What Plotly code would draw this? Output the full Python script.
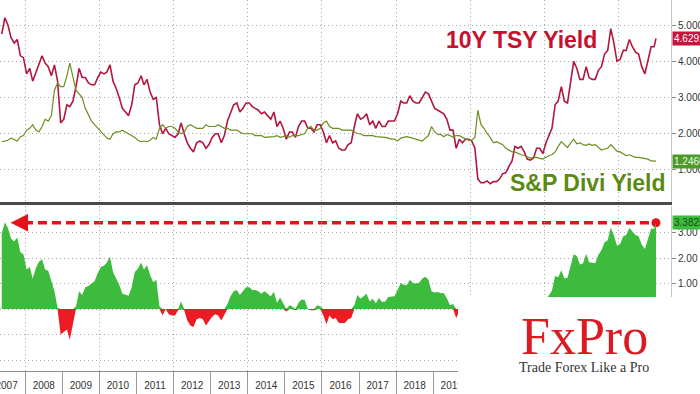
import numpy as np
import plotly.graph_objects as go

# ---------------- data (mid-month readings, May 2007 .. Dec 2024, plus 2 Jan 2025) ----------------
months = [f"{y}-{m:02d}-15" for y in range(2007, 2025) for m in range(1, 13) if not (y == 2007 and m < 5)]
dates = months + ["2025-01-02"]

tsy_yield = [
    4.75, 5.20, 5.00, 4.65, 4.50, 4.60, 4.15, 4.10,                      # 2007
    3.65, 3.80, 3.45, 3.70, 3.90, 4.15, 3.95, 3.85, 3.60, 3.90, 3.45, 2.30,  # 2008
    2.40, 2.80, 2.75, 2.90, 3.30, 3.80, 3.55, 3.55, 3.40, 3.35, 3.35, 3.55,  # 2009
    3.70, 3.65, 3.70, 3.90, 3.45, 3.25, 3.00, 2.70, 2.60, 2.50, 2.80, 3.35,  # 2010
    3.40, 3.60, 3.35, 3.50, 3.15, 2.95, 3.00, 2.25, 2.00, 2.15, 2.00, 1.95,  # 2011
    1.90, 2.00, 2.30, 2.00, 1.75, 1.60, 1.50, 1.75, 1.80, 1.75, 1.60, 1.70,  # 2012
    1.90, 2.00, 2.00, 1.75, 1.95, 2.35, 2.60, 2.80, 2.85, 2.60, 2.70, 2.85,  # 2013
    2.85, 2.75, 2.70, 2.65, 2.55, 2.60, 2.50, 2.40, 2.60, 2.20, 2.35, 2.15,  # 2014
    1.85, 2.05, 2.05, 1.90, 2.20, 2.35, 2.35, 2.15, 2.15, 2.05, 2.25, 2.25,  # 2015
    2.05, 1.75, 1.95, 1.75, 1.80, 1.60, 1.55, 1.55, 1.70, 1.75, 2.20, 2.55,  # 2016
    2.40, 2.45, 2.55, 2.25, 2.35, 2.15, 2.35, 2.20, 2.20, 2.35, 2.35, 2.35,  # 2017
    2.55, 2.90, 2.85, 2.85, 3.05, 2.90, 2.85, 2.85, 3.00, 3.15, 3.10, 2.90,  # 2018
    2.70, 2.65, 2.60, 2.55, 2.40, 2.10, 2.10, 1.60, 1.85, 1.75, 1.85, 1.85,  # 2019
    1.80, 1.60, 0.75, 0.65, 0.65, 0.70, 0.62, 0.68, 0.68, 0.75, 0.90, 0.92,  # 2020
    1.10, 1.25, 1.65, 1.60, 1.65, 1.50, 1.30, 1.27, 1.33, 1.60, 1.60, 1.45,  # 2021
    1.75, 1.95, 2.15, 2.80, 2.90, 3.30, 2.90, 2.85, 3.45, 4.00, 3.80, 3.50,  # 2022
    3.50, 3.85, 3.55, 3.50, 3.50, 3.75, 3.85, 4.20, 4.30, 4.90, 4.50, 4.00,  # 2023
    4.05, 4.30, 4.30, 4.60, 4.40, 4.25, 4.20, 3.85, 3.65, 4.05, 4.40, 4.40,  # 2024
    4.6291,                                                              # 2025
]

div_yield = [
    1.78, 1.80, 1.82, 1.88, 1.85, 1.80, 1.92, 1.95,                      # 2007
    2.10, 2.15, 2.25, 2.10, 2.05, 2.20, 2.40, 2.35, 2.50, 3.20, 3.40, 3.30,  # 2008
    3.30, 3.60, 3.95, 3.55, 3.20, 3.10, 3.00, 2.70, 2.50, 2.35, 2.25, 2.15,  # 2009
    2.05, 1.95, 1.88, 1.85, 2.00, 2.05, 2.05, 2.10, 2.05, 1.98, 1.95, 1.90,  # 2010
    1.82, 1.78, 1.80, 1.78, 1.82, 1.90, 1.85, 2.15, 2.25, 2.15, 2.20, 2.20,  # 2011
    2.15, 2.05, 2.00, 2.05, 2.20, 2.25, 2.20, 2.15, 2.15, 2.15, 2.25, 2.20,  # 2012
    2.20, 2.20, 2.25, 2.20, 2.15, 2.15, 2.10, 2.10, 2.10, 2.05, 2.00, 2.00,  # 2013
    2.00, 2.00, 1.95, 1.95, 1.95, 1.90, 1.90, 1.90, 1.92, 1.95, 1.90, 1.92,  # 2014
    1.95, 1.90, 1.95, 1.95, 1.95, 1.98, 2.00, 2.15, 2.20, 2.10, 2.10, 2.15,  # 2015
    2.30, 2.35, 2.20, 2.15, 2.15, 2.15, 2.10, 2.10, 2.10, 2.10, 2.05, 2.00,  # 2016
    2.00, 1.95, 1.95, 1.95, 1.95, 1.92, 1.92, 1.92, 1.90, 1.88, 1.85, 1.85,  # 2017
    1.80, 1.88, 1.90, 1.92, 1.90, 1.88, 1.85, 1.82, 1.80, 1.88, 1.95, 2.20,  # 2018
    2.05, 1.98, 1.98, 1.92, 1.98, 1.95, 1.90, 1.95, 1.95, 1.90, 1.85, 1.82,  # 2019
    1.82, 1.90, 2.65, 2.25, 2.15, 2.00, 1.90, 1.75, 1.78, 1.75, 1.70, 1.60,  # 2020
    1.55, 1.50, 1.50, 1.45, 1.42, 1.40, 1.37, 1.33, 1.35, 1.35, 1.32, 1.30,  # 2021
    1.35, 1.40, 1.42, 1.50, 1.65, 1.78, 1.70, 1.62, 1.75, 1.85, 1.72, 1.75,  # 2022
    1.70, 1.68, 1.72, 1.68, 1.70, 1.62, 1.55, 1.58, 1.60, 1.70, 1.62, 1.52,  # 2023
    1.50, 1.45, 1.40, 1.42, 1.38, 1.35, 1.35, 1.33, 1.30, 1.30, 1.25, 1.25,  # 2024
    1.2466,                                                              # 2025
]

year_labels = [str(y) for y in range(2007, 2025)]
year_label_pos = [f"{y}-07-02" for y in range(2007, 2025)]
top_ticks = [1, 2, 3, 4, 5]
bottom_ticks = [-2, -1, 0, 1, 2, 3]
ARROW_TIP = "2007-08-10"
DASH_START = "2007-12-20"
X_RANGE = ["2007-04-28", "2025-05-30"]

# ---------------- derived ----------------
tsy = np.array(tsy_yield)
div = np.array(div_yield)
spread = tsy - div
pos = np.where(spread >= 0, spread, 0)
neg = np.where(spread < 0, spread, 0)

RED_LINE = "#b3173f"
GREEN_LINE = "#6a8f1f"
AREA_GREEN = "#3dbb3d"
AREA_RED = "#ec1c24"
GRID = "#a8a8a8"

W, H = 700.0, 394.0
PW = 671.0   # plot-area width (right axis line at x=671)


def px(x):
    return x / PW


def py(y):
    return 1 - y / H


fig = go.Figure()
fig.add_trace(go.Scatter(x=dates, y=pos, xaxis="x2", yaxis="y", mode="lines",
                         line=dict(width=0, color=AREA_GREEN), fill="tozeroy",
                         fillcolor=AREA_GREEN, hoverinfo="skip"))
fig.add_trace(go.Scatter(x=dates, y=neg, xaxis="x2", yaxis="y", mode="lines",
                         line=dict(width=0, color=AREA_RED), fill="tozeroy",
                         fillcolor=AREA_RED, hoverinfo="skip"))
fig.add_trace(go.Scatter(x=[DASH_START, dates[-1]], y=[spread[-1], spread[-1]],
                         xaxis="x", yaxis="y", mode="lines",
                         line=dict(color="#e3121b", width=3.5, dash="9px,5px")))
fig.add_trace(go.Scatter(x=[dates[-1]], y=[spread[-1]], xaxis="x", yaxis="y", mode="markers",
                         marker=dict(color="#e3121b", size=9)))
fig.add_trace(go.Scatter(x=dates, y=tsy, xaxis="x2", yaxis="y2", mode="lines",
                         line=dict(color=RED_LINE, width=1.6)))
fig.add_trace(go.Scatter(x=dates, y=div, xaxis="x2", yaxis="y2", mode="lines",
                         line=dict(color=GREEN_LINE, width=1.2)))

yfont = dict(size=10, color="#333333")

fig.update_layout(
    template="none",
    width=700, height=394,
    margin=dict(l=0, r=W - PW, t=0, b=0, pad=0, autoexpand=False),
    paper_bgcolor="white", plot_bgcolor="rgba(0,0,0,0)",
    showlegend=False,
    font=dict(family="Liberation Sans, Arial, sans-serif", color="#333333", size=10),
    xaxis=dict(domain=[0, 1], anchor="y", type="date", range=X_RANGE, automargin=False,
               tickmode="array", tickvals=year_label_pos, ticktext=year_labels, ticks="",
               tickfont=dict(size=10, color="#333333"), ticklabelstandoff=5,
               ticklabeloverflow="allow",
               minor=dict(ticks="outside", ticklen=23, tickwidth=1, tickcolor="#9a9a9a",
                          dtick="M12", tick0="2007-01-01", showgrid=False),
               showgrid=False, zeroline=False, showline=True, linecolor="#8c8c8c", linewidth=1),
    xaxis2=dict(domain=[0, 1], anchor="y2", type="date", range=X_RANGE, matches="x",
                automargin=False, tickmode="linear", dtick="M24", tick0="2008-01-01",
                showgrid=True, gridcolor=GRID, griddash="1px,3px", gridwidth=1,
                showticklabels=False, ticks="", zeroline=False,
                showline=True, linecolor="#4a4a4a", linewidth=3),
    yaxis=dict(domain=[23 / H, 188 / H], anchor="x", side="right", range=[-2.43, 4.04],
               automargin=False, tickvals=bottom_ticks, tickformat=".2f", showgrid=True,
               gridcolor=GRID, griddash="1px,3px", gridwidth=1, zeroline=False,
               ticks="outside", ticklen=4, tickcolor="#888888",
               showline=True, linecolor="#c4ceb4", tickfont=yfont),
    yaxis2=dict(domain=[192 / H, 1], anchor="x2", side="right", range=[0.117, 5.69],
                automargin=False, tickvals=top_ticks, tickformat=".4f", showgrid=True,
                gridcolor=GRID, griddash="1px,3px", gridwidth=1, zeroline=False,
                ticks="outside", ticklen=4, tickcolor="#888888",
                showline=True, linecolor="#c4ceb4", tickfont=yfont),
)

fig.add_shape(type="rect", xref="paper", yref="paper", x0=px(458), x1=px(W),
              y0=0, y1=py(297), fillcolor="white", line=dict(width=0), layer="above")

C = dict(xanchor="center", yanchor="middle", showarrow=False, xref="paper", yref="paper")
ann = [
    dict(text="<b>10Y TSY Yield</b>", x=px(521), y=py(40),
         font=dict(size=23, color="#c8102e", family="Liberation Sans, Arial"), **C),
    dict(text="<b>S&P Divi Yield</b>", x=px(588), y=py(183),
         font=dict(size=23, color="#5b8a12", family="Liberation Sans, Arial"), **C),
    dict(text="FxPro", x=px(584), y=py(336),
         font=dict(size=52, color="#dc1a22", family="Liberation Serif, Times New Roman, serif"), **C),
    dict(text="Trade Forex Like a Pro", x=px(584), y=py(367),
         font=dict(size=14, color="#333333", family="Liberation Serif, Times New Roman, serif"), **C),
    dict(text=f"{tsy[-1]:.4f}", xref="paper", yref="y2", x=px(672), y=tsy[-1], xanchor="left",
         yanchor="middle", showarrow=False, bgcolor="#c4163c", borderpad=1,
         font=dict(size=10, color="white")),
    dict(text=f"{div[-1]:.4f}", xref="paper", yref="y2", x=px(672), y=div[-1], xanchor="left",
         yanchor="middle", showarrow=False, bgcolor="#4c9a2a", borderpad=1,
         font=dict(size=10, color="#eef8e0")),
    dict(text=f"{spread[-1]:.4f}", xref="paper", yref="y", x=px(672), y=spread[-1], xanchor="left",
         yanchor="middle", showarrow=False, bgcolor="#3dbb3d", borderpad=1,
         font=dict(size=10, color="#124d12")),
    dict(text="", xref="x", yref="y", x=ARROW_TIP, y=spread[-1], ax=16, ay=0,
         showarrow=True, arrowhead=2, arrowsize=1, arrowwidth=3.5, arrowcolor="#e3121b"),
]
fig.update_layout(annotations=ann)

# remove the browser's default 8px body margin so the 700x394 figure fills the window exactly
fig.write_html("out.html", config={"displayModeBar": False},
               post_script="document.body.style.margin='0';")
